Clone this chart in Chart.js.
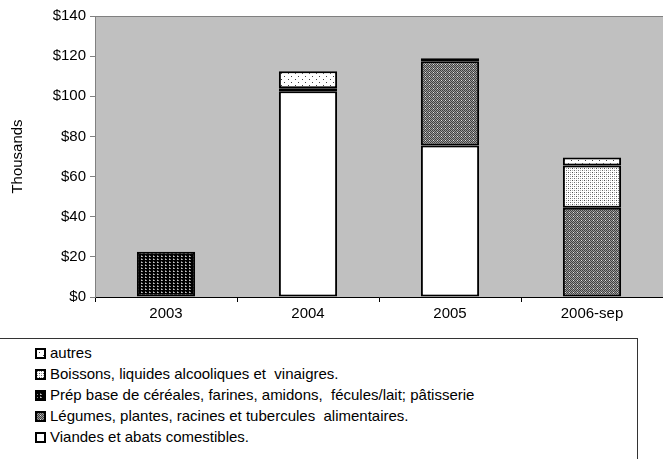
<!DOCTYPE html>
<html>
<head>
<meta charset="utf-8">
<script src="https://cdn.jsdelivr.net/npm/chart.js@4.4.1/dist/chart.umd.min.js"></script>
<style>
body { margin:0; background:#fff; font-family:"Liberation Sans", Arial, sans-serif; }
#wrap { position:relative; width:663px; height:459px; overflow:hidden; }
#legend { position:absolute; left:-1px; top:338px; width:639px; height:130px; border:1px solid #333; background:#fff; box-sizing:border-box; }
#legend div { position:absolute; left:35px; height:21px; line-height:21px; font-size:15px; white-space:pre; color:#000; }
#legend canvas { vertical-align:middle; margin-right:4px; position:relative; top:-1px; }
</style>
</head>
<body>
<div id="wrap">
<canvas id="chart" width="663" height="459"></canvas>
<div id="legend"></div>
</div>
<script>

var categories = ["2003", "2004", "2005", "2006-sep"];

var viandes  = [null, 102.5, 75.5, null];
var legumes  = [null, null, 42, 44.5];
var prep     = [22.5, 1.5, 1.5, null];
var boissons = [null, null, null, 21];
var autres   = [null, 8.5, null, 4];

var yTicks = [0, 20, 40, 60, 80, 100, 120, 140];

// little pixel tiles for the excel style fill patterns
function tile(w, h, bg, dots)
{
        var c = document.createElement("canvas");
        c.width = w; c.height = h;
        var x = c.getContext("2d");
        x.fillStyle = bg;
        x.fillRect(0, 0, w, h);
        for (var i = 0; i < dots.length; i++) {
                x.fillStyle = dots[i][2];
                x.fillRect(dots[i][0], dots[i][1], 1, 1);
        }
        return c;
}

var tiles = {
        viandes:  null,
        legumes:  tile(4, 4, "#9a9a9a", [[0,0,"#404040"],[2,0,"#404040"],[1,1,"#404040"],[3,1,"#404040"],[0,2,"#404040"],[2,2,"#404040"],[1,3,"#404040"],[3,3,"#404040"],[1,0,"#e0e0e0"]]),
        prep:     tile(4, 3, "#000000", [[1,1,"#c8c8c8"],[2,1,"#909090"],[1,0,"#606060"]]),
        boissons: tile(4, 4, "#ffffff", [[0,0,"#505050"],[2,2,"#707070"],[0,2,"#b0b0b0"],[2,0,"#b0b0b0"]]),
        autres:   tile(7, 6, "#ffffff", [[1,1,"#404040"],[4,4,"#404040"]])
};

var ctx0 = document.getElementById("chart").getContext("2d");
function fill(name)
{
        if (tiles[name] == null) return "#ffffff";
        return ctx0.createPattern(tiles[name], "repeat");
}

var series = [
        { label: "Viandes et abats comestibles.", data: viandes, key: "viandes" },
        { label: "Légumes, plantes, racines et tubercules  alimentaires.", data: legumes, key: "legumes" },
        { label: "Prép base de céréales, farines, amidons,  fécules/lait; pâtisserie", data: prep, key: "prep" },
        { label: "Boissons, liquides alcooliques et  vinaigres.", data: boissons, key: "boissons" },
        { label: "autres", data: autres, key: "autres" }
];

var datasets = [];
for (var i = 0; i < series.length; i++) {
        datasets.push({
                label: series[i].label,
                data: series[i].data,
                backgroundColor: fill(series[i].key),
                borderColor: "#000000",
                borderWidth: 2,
                borderSkipped: false,
                categoryPercentage: 1,
                barPercentage: 0.41
        });
}

var plotBg = {
        id: "plotBg",
        beforeDraw: function(chart) {
                var a = chart.chartArea, c = chart.ctx;
                c.save();
                c.fillStyle = "#c0c0c0";
                c.fillRect(a.left, a.top, a.right - a.left, a.bottom - a.top);
                c.strokeStyle = "#808080";
                c.lineWidth = 1;
                c.strokeRect(a.left + 0.5, a.top + 0.5, a.right - a.left, a.bottom - a.top);
                c.restore();
        }
};

var MyChart = new Chart(ctx0, {
        type: "bar",
        data: { labels: categories, datasets: datasets },
        plugins: [plotBg],
        options: {
                responsive: false,
                animation: false,
                layout: { padding: { top: 16, right: 0, left: 0, bottom: 0 } },
                plugins: { legend: { display: false }, tooltip: { enabled: false } },
                scales: {
                        x: {
                                stacked: true,
                                grid: { offset: true, drawOnChartArea: false, drawTicks: true, tickLength: 5, color: "#000" },
                                border: { color: "#000", width: 1 },
                                ticks: { color: "#000", font: { family: "Liberation Sans", size: 15 }, padding: 3, maxRotation: 0 },
                                afterFit: function(s) { s.height = 162; }
                        },
                        y: {
                                stacked: true,
                                min: 0, max: 140,
                                afterBuildTicks: function(s) { s.ticks = yTicks.map(function(v) { return { value: v }; }); },
                                grid: { drawOnChartArea: false, drawTicks: true, tickLength: 5, color: "#808080" },
                                border: { color: "#808080" },
                                ticks: {
                                        color: "#000", font: { family: "Liberation Sans", size: 15 }, padding: 4,
                                        callback: function(v) { return "$" + v; }
                                },
                                title: { display: true, text: "Thousands", color: "#000", font: { family: "Liberation Sans", size: 15 }, padding: { top: 9, bottom: 0 } },
                                afterFit: function(s) { s.width = 95; }
                        }
                }
        }
});

// legend, top entry first like the original
var legend = document.getElementById("legend");
for (var j = series.length - 1; j >= 0; j--) {
        var row = document.createElement("div");
        row.style.top = (3 + (series.length - 1 - j) * 21) + "px";
        var sw = document.createElement("canvas");
        sw.width = 11; sw.height = 11;
        var sc = sw.getContext("2d");
        sc.fillStyle = tiles[series[j].key] ? sc.createPattern(tiles[series[j].key], "repeat") : "#fff";
        sc.fillRect(0, 0, 11, 11);
        sc.strokeStyle = "#000"; sc.lineWidth = 2;
        sc.strokeRect(1, 1, 9, 9);
        row.appendChild(sw);
        row.appendChild(document.createTextNode(series[j].label));
        legend.appendChild(row);
}
</script>
</body>
</html>
